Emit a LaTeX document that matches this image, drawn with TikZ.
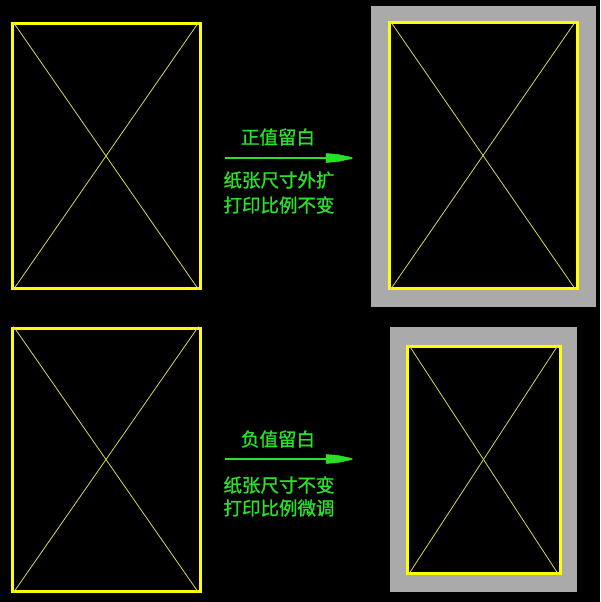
\documentclass[tikz,border=0pt]{standalone}
\usepackage{fontspec}
\newfontfamily\cjk[FakeBold=1.2]{Noto Sans CJK SC}
\definecolor{frameyellow}{RGB}{255,255,0}
\definecolor{diagyellow}{RGB}{215,215,90}
\definecolor{papergray}{RGB}{170,170,170}
\definecolor{labelgreen}{RGB}{40,225,40}
\tikzset{
  frame/.style={draw=frameyellow, fill=black, line width=3pt, inner sep=0pt, outer sep=0pt},
  paper/.style={fill=papergray, draw=none, inner sep=0pt, outer sep=0pt},
  diag/.style={draw=diagyellow, line width=0.8pt},
  lbl/.style={text=labelgreen, font=\cjk\fontsize{18.5}{20}\selectfont, inner sep=0pt},
  arrowline/.style={draw=labelgreen, line width=1.6pt},
  arrowhead/.style={fill=labelgreen, draw=labelgreen, line width=0.5pt}
}
\begin{document}
\begin{tikzpicture}[x=1pt,y=-1pt]
\useasboundingbox (0,0) rectangle (600,602);
\fill[black] (0,0) rectangle (600,602);
% gray paper backgrounds
\node[paper, minimum width=225pt, minimum height=301pt] (gtr) at (483.5,156.5) {};
\node[paper, minimum width=187pt, minimum height=265pt] (gbr) at (483.5,459.5) {};
% yellow frames
\node[frame, minimum width=188pt, minimum height=264pt] (tl) at (106,156) {};
\node[frame, minimum width=188pt, minimum height=263pt] (bl) at (106,459.5) {};
\node[frame, minimum width=188pt, minimum height=265pt] (tr) at (483,155.5) {};
\node[frame, minimum width=153pt, minimum height=227pt] (br) at (483.5,459.5) {};
% diagonals
\foreach \n in {tl,bl,tr,br}{
  \draw[diag] ([shift={(1.5,-1.5)}]\n.north west) -- ([shift={(-1.5,1.5)}]\n.south east);
  \draw[diag] ([shift={(-1.5,-1.5)}]\n.north east) -- ([shift={(1.5,1.5)}]\n.south west);
}
% top labels and arrow
\node[lbl] (t1) at (278,137) {正值留白};
\node[lbl] (t2) at (279,180) {纸张尺寸外扩};
\node[lbl] (t3) at (279,205) {打印比例不变};
\coordinate (a1s) at (225,158);
\coordinate (a1h) at (326,158);
\draw[arrowline] (a1s) -- (a1h);
\fill[arrowhead] (a1h) ++(0,-4.5) -- ++(12,1) -- ++(14,3) -- ++(0,1) -- ++(-14,3) -- ++(-12,1) -- cycle;
% bottom labels and arrow
\node[lbl] (b1) at (278,439) {负值留白};
\node[lbl] (b2) at (279,485) {纸张尺寸不变};
\node[lbl] (b3) at (279,508) {打印比例微调};
\coordinate (a2s) at (225,459);
\coordinate (a2h) at (326,459);
\draw[arrowline] (a2s) -- (a2h);
\fill[arrowhead] (a2h) ++(0,-4.5) -- ++(12,1) -- ++(14,3) -- ++(0,1) -- ++(-14,3) -- ++(-12,1) -- cycle;
\end{tikzpicture}
\end{document}
